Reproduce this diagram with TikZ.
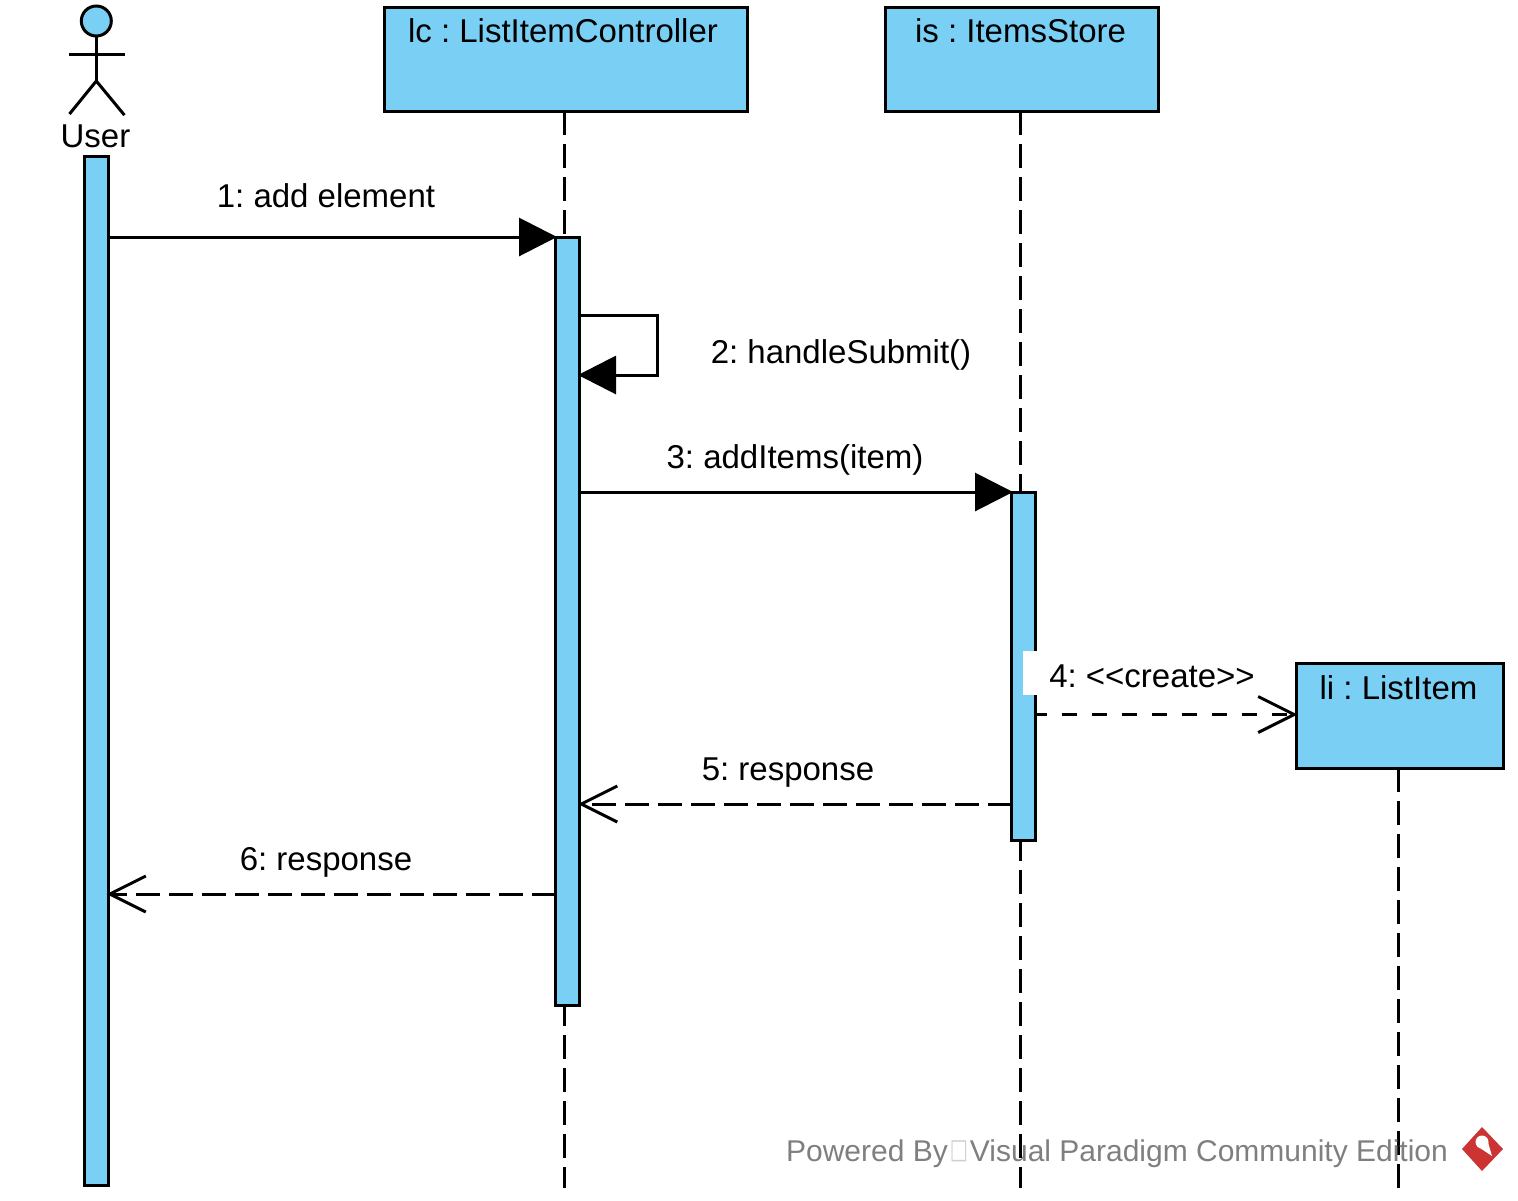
\documentclass[tikz,border=0pt]{standalone}
\usepackage{fontspec, graphicx}
\setmainfont{Liberation Sans}
\newfontfamily\boxglyph{DejaVu Sans}
\usetikzlibrary{arrows.meta}
\definecolor{vpblue}{HTML}{7ACFF5}
\definecolor{vpgrey}{HTML}{7F7F7F}
\definecolor{vpbox}{HTML}{CFCFCF}
\definecolor{vpred}{HTML}{CC3333}
\frenchspacing

\begin{document}
\begin{tikzpicture}[x = 1pt, y = -1pt, % one unit is one pixel of the reference
                line width = 3pt, % line style
                >= {Triangle[length = 38pt, width = 38pt]}, % arrow head style
                shorten > = -1.5pt % let arrow head touch the node
            ]

            \tikzstyle{every node}=[font = \fontsize{33}{40}\selectfont, inner sep = 0pt,
            outer sep = 0pt]
            \tikzstyle{lifebox}=[draw = black, fill = vpblue, rectangle]
            \tikzstyle{actbar}=[draw = black, fill = vpblue, rectangle, minimum width = 24pt]
            \tikzstyle{lifeline}=[dash pattern = on 24pt off 9pt, shorten > = 0pt]
            \tikzstyle{reply}=[dash pattern = on 24pt off 9pt,
            -{Straight Barb[length = 36pt, width = 36pt]}]
            \tikzstyle{create}=[dash pattern = on 15pt off 15pt, dash phase = 4pt,
            -{Straight Barb[length = 36pt, width = 36pt]}]
            \tikzstyle{msg}=[anchor = base]

            \useasboundingbox (0,0) rectangle (1518,1200);

            % lifeline heads
            \node (lc) [lifebox, minimum width = 363pt, minimum height = 104pt] at (565.5,59) {};
            \node (is) [lifebox, minimum width = 273pt, minimum height = 104pt] at (1021.5,59) {};
            \coordinate (lcend) at (564,1188);
            \coordinate (isend) at (1020,1188);
            \coordinate (liend) at (1398,1188);

            \draw[lifeline] (lcend |- lc.south) -- (lcend);
            \draw[lifeline] (isend |- is.south) -- (isend);

            \node (lctitle) [msg] at (563,42) {lc : ListItemController};
            \node (istitle) [msg] at (1020.5,42) {is : ItemsStore};

            % the actor
            \node (head) [draw = black, fill = vpblue, circle, minimum size = 30pt] at (96.3,21) {};
            \coordinate (hip) at (96.3,81);
            \coordinate (handl) at (69,54);
            \coordinate (handr) at (123.5,54);
            \coordinate (footl) at (69.5,114);
            \coordinate (footr) at (123.5,114);
            \draw (head.south) -- (hip); \draw (handl) -- (handr);
            \draw (footl) -- (hip) -- (footr);
            \node (user) [msg] at (95.5,147) {User};

            % activation bars
            \node (bar1) [actbar, minimum height = 1029pt] at (96,670.5) {};
            \node (bar2) [actbar, minimum height = 768pt] at (567.5,621) {};
            \node (bar3) [actbar, minimum height = 348pt] at (1023.5,666) {};

            % late head
            \draw[lifeline] (liend |- 0,768) -- (liend);
            \node (li) [lifebox, minimum width = 207pt, minimum height = 105pt] at (1399.5,715.5) {};
            \node (lititle) [msg] at (1398.5,699) {li : ListItem};

            % messages
            \node (m1) [msg] at (326,207) {1: add element};
            \draw[->] (bar1.east |- bar2.north west) -- (bar2.north west);

            \coordinate (loopa) at (657,315);
            \coordinate (loopb) at (657,375);
            \node (m2) [msg] at (841,363) {2: handleSubmit()};
            \draw[->] (bar2.east |- loopa) -- (loopa) -- (loopb) -- (bar2.east |- loopb);

            \node (m3) [msg] at (795,468) {3: addItems(item)};
            \draw[->] (bar2.east |- bar3.north west) -- (bar3.north west);

            \node (m4) [msg, fill = white, minimum width = 258pt, text height = 36pt,
            text depth = 8pt] at (1152,687) {4: <{}<create>{}>};
            \draw[create] ([yshift = 1pt] bar3.east |- li.west) -- ([yshift = 1pt] li.west);

            \coordinate (back5) at (1012,804);
            \coordinate (back6) at (556,894);
            \node (m5) [msg] at (788,780) {5: response};
            \draw[reply] (bar3.west |- back5) -- (bar2.east |- back5);
            \node (m6) [msg] at (326,870) {6: response};
            \draw[reply] (bar2.west |- back6) -- (bar1.east |- back6);

            % footer
            \node (powered) [msg, text = vpgrey, font = \fontsize{30}{36}\selectfont] at (1117,1161)
            {Powered By\hspace{2pt}\textcolor{vpbox}{\raisebox{3pt}{\scalebox{0.8}[1.15]{\boxglyph\fontsize{24}{28}\selectfont □}}}\hspace{2pt}Visual Paradigm Community Edition};
            \fill[vpred] (1482,1127) -- (1503,1149) -- (1482,1171) -- (1462,1149) -- cycle;
            \fill[white] (1482,1142) circle (6.5pt);
            \fill[white] (1477,1146) -- (1487,1139) -- (1492,1156) -- cycle;
        \end{tikzpicture}
\end{document}
